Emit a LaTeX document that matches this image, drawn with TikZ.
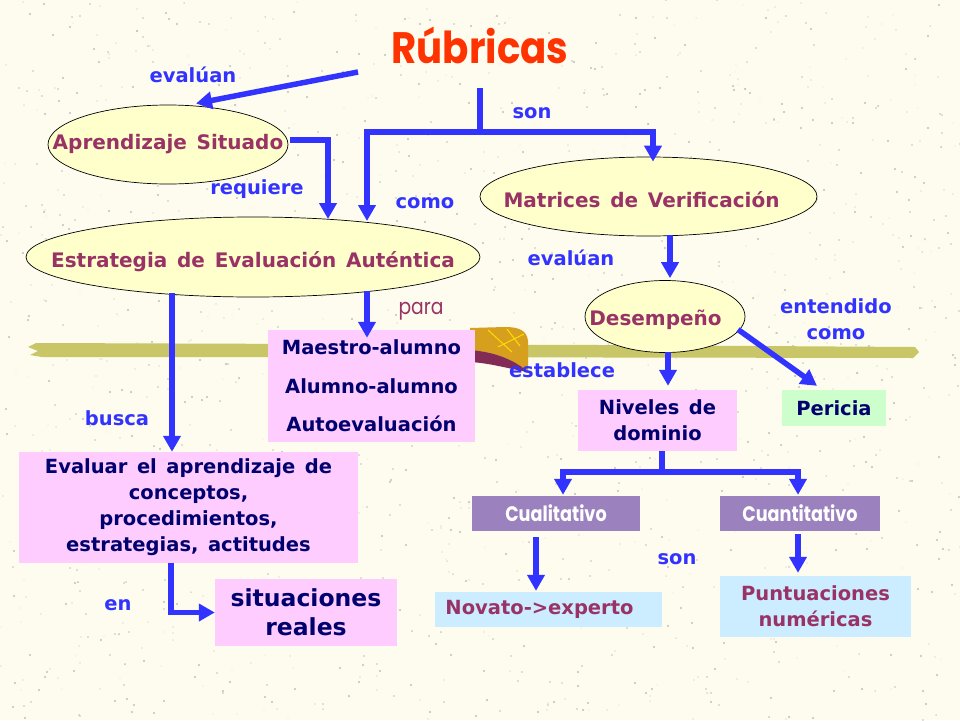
\documentclass[tikz,border=0pt]{standalone}
\usepackage{graphicx}
\usepackage{fontspec}
\setmainfont{DejaVu Sans}
\newfontfamily\ellfont[WordSpace=1.6]{DejaVu Sans}
\newfontfamily\boxfont[WordSpace=1.4]{DejaVu Sans}
\newfontfamily\comicfont{Poppins}
\usetikzlibrary{shapes.geometric,arrows.meta,calc}
\definecolor{bgcol}{RGB}{253,252,238}
\definecolor{arrblue}{RGB}{51,51,255}
\definecolor{maroonc}{RGB}{153,51,102}
\definecolor{navyc}{RGB}{0,0,110}
\definecolor{ellfill}{RGB}{255,255,204}
\definecolor{pinkbox}{RGB}{255,204,255}
\definecolor{greenbox}{RGB}{204,255,204}
\definecolor{bluebox}{RGB}{204,236,255}
\definecolor{purplebox}{RGB}{155,130,190}
\definecolor{titlered}{RGB}{255,51,0}
\definecolor{olivec}{RGB}{200,198,102}
\definecolor{goldc}{RGB}{214,160,30}
\newcommand{\lowertext}[2]{\raisebox{-#1}[\height][\depth]{#2}}
\begin{document}
\begin{tikzpicture}[x=1pt,y=-1pt,
  ell/.style={ellipse,draw=black,line width=0.7pt,fill=ellfill,inner sep=0pt,text=maroonc,font=\ellfont\fontsize{20}{22}\selectfont\bfseries},
  box/.style={rectangle,inner sep=0pt,text=navyc,align=center,font=\boxfont\fontsize{19.5}{26}\selectfont\bfseries},
  purplebx/.style={rectangle,inner sep=0pt,fill=purplebox,text=white,minimum height=35pt,font=\comicfont\fontsize{21}{24}\selectfont\bfseries},
  lbl/.style={text=arrblue,align=center,inner sep=0pt,font=\fontsize{19.5}{25}\selectfont\bfseries},
  conn/.style={draw=arrblue,line width=5.5pt},
  arr/.style={conn,-{Triangle[width=17pt,length=16pt]}},
]
% background
\fill[bgcol] (0,0) rectangle (960,720);
\useasboundingbox (0,0) rectangle (960,720);
\pgfmathsetseed{12345}
\foreach \i in {1,...,1500}{
  \pgfmathsetmacro\rx{random(0,960)}
  \pgfmathsetmacro\ry{random(0,720)}
  \pgfmathsetmacro\rr{0.35+0.9*rnd}
  \fill[black!40,opacity=0.6] (\rx,\ry) circle (\rr pt);
}
% decorative stripe
\fill[olivec] (36,343) -- (600,345) -- (915,347) -- (919,352) -- (913,358) -- (300,357) -- (42,357) -- (30,355) -- (38,351) -- (28,347) -- cycle;
% decorative brush
\fill[goldc] (470,328) -- (505,327) .. controls (520,327) and (527,331) .. (528,341) -- (528,372) .. controls (515,360) and (495,352) .. (470,350) -- cycle;
\fill[maroonc!85!black] (470,350) .. controls (495,352) and (515,360) .. (528,372) .. controls (510,369) and (490,363) .. (470,362) -- cycle;
\draw[yellow!80!orange,line width=1pt] (488,330) -- (512,352) (498,347) -- (524,334) (507,329) -- (520,346);

% title
\node[text=titlered,inner sep=0pt,font=\comicfont\fontsize{44}{50}\selectfont\bfseries] (rub) at (480,45) {\scalebox{0.88}[1]{Rúbricas}};

% ellipses
\node[ell,minimum width=240pt,minimum height=79pt] (apr) at (168,144.5) {\makebox[0pt]{Aprendizaje Situado}};
\node[ell,minimum width=454pt,minimum height=80pt] (estr) at (253,257) {\makebox[0pt]{\lowertext{5pt}{Estrategia de Evaluación Auténtica}}};
\node[ell,minimum width=337pt,minimum height=79pt] (mat) at (648.5,196.5) {\makebox[0pt]{\kern-14pt\lowertext{3pt}{Matrices de Verificación}}};
\node[ell,minimum width=160pt,minimum height=72pt] (des) at (665,316.5) {\makebox[0pt]{\kern-19pt\lowertext{3pt}{Desempeño}}};

% boxes
\node[box,fill=pinkbox,minimum width=207pt,minimum height=112pt,font=\boxfont\fontsize{19.5}{38.5}\selectfont\bfseries] (maes) at (371.5,386) {Maestro-alumno\\Alumno-alumno\\Autoevaluación};
\node[box,fill=pinkbox,minimum width=339pt,minimum height=111pt] (evl) at (188.5,507.5) {Evaluar el aprendizaje de\\conceptos,\\procedimientos,\\estrategias, actitudes};
\node[box,fill=pinkbox,minimum width=182pt,minimum height=67pt,font=\boxfont\fontsize{23.5}{29}\selectfont\bfseries] (sit) at (306,612.5) {situaciones\\reales};
\node[box,fill=pinkbox,minimum width=159pt,minimum height=61pt] (niv) at (657.5,420.5) {Niveles de\\dominio};
\node[box,fill=greenbox,minimum width=104pt,minimum height=36pt] (per) at (834,408) {Pericia};
\node[purplebx,minimum width=168pt] (cual) at (556,513.5) {\scalebox{0.84}[1]{Cualitativo}};
\node[purplebx,minimum width=160pt] (cuan) at (800,513.5) {\scalebox{0.84}[1]{Cuantitativo}};
\node[box,fill=bluebox,text=maroonc,minimum width=227pt,minimum height=35pt] (nov) at (548.5,609.5) {\hspace*{-18pt}Novato->experto};
\node[box,fill=bluebox,text=maroonc,minimum width=191pt,minimum height=61pt] (pun) at (815.5,606.5) {Puntuaciones\\numéricas};

% connectors
\coordinate (r1) at (358,72);
\draw[arr] (r1) -- ($(apr.center)+(28,-41)$);
\draw[arr] ($(apr.east)+(2,-4.5)$) -| ($(estr.center)+(75,-38)$);
\coordinate (s0) at (480,88);
\coordinate (sj) at (480,132);
\draw[conn] (s0) -- (sj);
\draw[arr] ($(sj)+(2.75,0)$) -| ($(estr.center)+(114,-36)$);
\draw[arr] ($(sj)+(-2.75,0)$) -| ($(mat.north)+(4.5,5)$);
\draw[arr] ($(estr.center)+(114,34)$) -- ($(maes.north)+(-4.5,8)$);
\draw[arr] ($(estr.center)+(-81,36)$) -- ($(evl.north)+(-16.5,0)$);
\draw[arr] ($(evl.south)+(-17.5,0)$) |- (sit.west);
\draw[arr] ($(mat.center)+(21.5,38)$) -- ($(des.north)+(5,-2)$);
\draw[arr] ($(des.south)+(3,-1)$) -- ($(niv.north)+(10.5,-4)$);
\draw[arr] ($(des.center)+(73,13)$) -- ($(per.north)+(-17,-4)$);
\coordinate (nj) at (662,472);
\draw[conn] ($(niv.south)+(4.5,0)$) -- (nj);
\draw[arr] ($(nj)+(2.75,0)$) -| ($(cual.north)+(7,-1)$);
\draw[arr] ($(nj)+(-2.75,0)$) -| ($(cuan.north)+(-2,-1)$);
\draw[arr] ($(cual.south)+(-20,6)$) -- ($(nov.north)+(-12.5,-1)$);
\draw[arr] ($(cuan.south)+(-2,3)$) -- ($(pun.north)+(-17.5,-3)$);

% labels
\node[lbl] (l1) at (193,75) {evalúan};
\node[lbl] (l2) at (257,189) {requiere};
\node[lbl] (l3) at (532,113) {son};
\node[lbl] (l4) at (425,203) {como};
\node[lbl] (l5) at (571,258) {evalúan};
\node[text=maroonc,inner sep=0pt,font=\comicfont\fontsize{22}{24}\selectfont] (l6) at (421,311) {\scalebox{0.85}[1]{para}};
\node[lbl,font=\fontsize{19.5}{26}\selectfont\bfseries] (l7) at (836,319.5) {entendido\\como};
\node[lbl] (l8) at (562,370) {establece};
\node[lbl] (l9) at (117,418) {busca};
\node[lbl] (l10) at (118,605) {en};
\node[lbl] (l11) at (677,559) {son};
\end{tikzpicture}
\end{document}
